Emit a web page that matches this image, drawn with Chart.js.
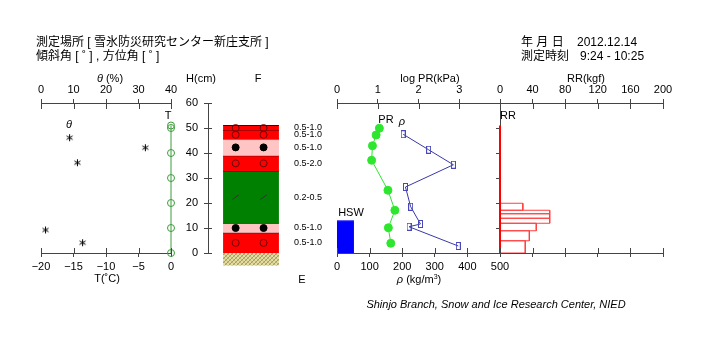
<!DOCTYPE html>
<html>
<head>
<meta charset="utf-8">
<script src="https://cdn.jsdelivr.net/npm/chart.js@4.4.1/dist/chart.umd.min.js"></script>
<style>
    body { margin: 0; background: #fff; }
    #wrap {
        position: relative; width: 720px; height: 338px; overflow: hidden; background: #fff;
        font-family: "Liberation Sans", "Noto Sans CJK JP", sans-serif; color: #000;
    }
    #wrap canvas { position: absolute; top: 0; }
    .t { position: absolute; white-space: nowrap; font-size: 11px; line-height: 1; transform: translate(-50%, -50%); }
    .l { position: absolute; white-space: nowrap; font-size: 12px; line-height: 1; transform: translateY(-50%); }
</style>
</head>
<body>
<div id="wrap">
    <canvas id="cTheta" width="200" height="338" style="left:0"></canvas>
    <canvas id="cLayer" width="190" height="338" style="left:150px"></canvas>
    <canvas id="cRho" width="230" height="338" style="left:300px"></canvas>
    <canvas id="cRR" width="250" height="338" style="left:470px"></canvas>

    <div class="l" style="left:36px;top:42px">測定場所 [ 雪氷防災研究センター新庄支所 ]</div>
    <div class="l" style="left:36px;top:56px">傾斜角 [ ˚ ] , 方位角 [ ˚ ]</div>
    <div class="l" style="left:521px;top:42px">年 月 日</div>
    <div class="l" style="left:577px;top:42px">2012.12.14</div>
    <div class="l" style="left:521px;top:56px">測定時刻</div>
    <div class="l" style="left:580px;top:56px">9:24 - 10:25</div>

    <div class="t" style="left:110px;top:78px"><i>θ</i> (%)</div>
    <div class="t" style="left:201px;top:78px">H(cm)</div>
    <div class="t" style="left:258px;top:78px">F</div>
    <div class="t" style="left:430px;top:78px">log PR(kPa)</div>
    <div class="t" style="left:586px;top:78px">RR(kgf)</div>
    <div class="t" style="left:107px;top:278px">T(˚C)</div>
    <div class="t" style="left:302px;top:279px">E</div>
    <div class="t" style="left:419px;top:279px"><i>ρ</i> (kg/m<sup style="font-size:7px">3</sup>)</div>

    <div class="t" style="left:69px;top:124px"><i>θ</i></div>
    <div class="t" style="left:168px;top:115px">T</div>
    <div class="t" style="left:386px;top:119px">PR</div>
    <div class="t" style="left:402px;top:121px"><i>ρ</i></div>
    <div class="t" style="left:351px;top:212px">HSW</div>
    <div class="t" style="left:508px;top:115px">RR</div>

    <div class="t" style="left:496px;top:304px;font-style:italic">Shinjo Branch, Snow and Ice Research Center, NIED</div>
</div>

<script>
// -------------------------------
// Daten
// -------------------------------
const thetaValue  = [8.8, 32.1, 11.2, 1.4, 12.8];
const thetaHeight = [46.1, 42.1, 36.1, 9.2, 4.1];

const tempValue  = [0, 0, 0, 0, 0, 0, 0];
const tempHeight = [0, 10, 20, 30, 40, 50, 51];

const layerTop    = [51.0, 49.0, 45.6, 38.9, 32.8, 11.9, 8.1];
const layerBottom = [49.0, 45.6, 38.9, 32.8, 11.9, 8.1, 0.0];
const layerShape  = ["o", "o", "x", "o", "/", "x", "o"];
const grainSize   = ["0.5-1.0", "0.5-1.0", "0.5-1.0", "0.5-2.0", "0.2-0.5", "0.5-1.0", "0.5-1.0"];
const groundBottom = -5;

const prHeight = [49.9, 47.2, 42.9, 37.1, 25.1, 17.1, 10.1, 3.9];
const prLog    = [1.04, 0.96, 0.87, 0.85, 1.25, 1.42, 1.26, 1.32];

const rhoHeight = [47.5, 41.3, 35.3, 26.4, 18.5, 11.6, 10.5, 2.8];
const rhoValue  = [203, 281, 357, 210, 226, 256, 221, 372];

const hswValue  = 52;
const hswHeight = 12.9;

const rrTop    = [19.9, 17.1, 15.7, 13.9, 11.9, 8.9, 4.9];
const rrBottom = [17.1, 15.7, 13.9, 11.9, 8.9, 4.9, 0.0];
const rrValue  = [28, 61, 61, 61, 44.5, 36, 31];

// -------------------------------
// Defaults
// -------------------------------
Chart.defaults.font.family = '"Liberation Sans", "Noto Sans CJK JP", sans-serif';
Chart.defaults.font.size = 11;
Chart.defaults.color = "#000";
Chart.defaults.animation = false;
Chart.defaults.responsive = false;
Chart.defaults.events = [];
Chart.defaults.plugins.legend.display = false;
Chart.defaults.plugins.tooltip.enabled = false;

const AXIS = "#444";
const hidden = { type: "linear", display: false, min: 0, max: 60 };

function hAxis(pos, min, max, step, extra) {
    return Object.assign({
        type: "linear", position: pos, min: min, max: max,
        ticks: { stepSize: step, padding: pos === "top" ? 2 : 3, autoSkip: false, maxRotation: 0 },
        grid: { drawOnChartArea: false, tickLength: 4, color: AXIS },
        border: { color: AXIS },
        afterFit: s => { s.height = 28; }
    }, extra || {});
}

// Ticks, die auch nach innen zeigen
function innerTicks(spec) {
    return {
        id: "innerTicks",
        afterDatasetsDraw(chart) {
            const ctx = chart.ctx;
            ctx.save();
            ctx.strokeStyle = AXIS;
            ctx.lineWidth = 1;
            Object.keys(spec).forEach(id => {
                const s = chart.scales[id];
                const len = spec[id];
                s.ticks.forEach((t, i) => {
                    const p = Math.round(s.getPixelForTick(i)) + 0.5;
                    ctx.beginPath();
                    if (s.position === "top") { ctx.moveTo(p, s.bottom); ctx.lineTo(p, s.bottom + len); }
                    else if (s.position === "bottom") { ctx.moveTo(p, s.top); ctx.lineTo(p, s.top - len); }
                    else { ctx.moveTo(s.right, p); ctx.lineTo(s.right + len, p); }
                    ctx.stroke();
                });
            });
            ctx.restore();
        }
    };
}

const pts = (xs, ys) => xs.map((v, i) => ({ x: v, y: ys[i] }));

// Sternchen mit 6 Armen
function asterisk() {
    const c = document.createElement("canvas");
    c.width = 9; c.height = 9;
    const g = c.getContext("2d");
    g.strokeStyle = "#000";
    g.lineWidth = 1;
    [90, 30, 150].forEach(a => {
        const r = a * Math.PI / 180;
        g.beginPath();
        g.moveTo(4.5 - 3.5 * Math.cos(r), 4.5 - 3.5 * Math.sin(r));
        g.lineTo(4.5 + 3.5 * Math.cos(r), 4.5 + 3.5 * Math.sin(r));
        g.stroke();
    });
    return c;
}

// -------------------------------
// Theta / Temperatur
// -------------------------------
new Chart(document.getElementById("cTheta"), {
    type: "scatter",
    data: {
        datasets: [
            {
                data: pts(tempValue, tempHeight), xAxisID: "t", yAxisID: "y",
                showLine: true, borderColor: "#3c9c3c", borderWidth: 1,
                pointStyle: "circle", pointRadius: 3.5, pointBorderColor: "#3c9c3c",
                pointBackgroundColor: "rgba(0,0,0,0)", clip: false
            },
            {
                data: pts(thetaValue, thetaHeight), xAxisID: "th", yAxisID: "y",
                pointStyle: asterisk()
            }
        ]
    },
    options: {
        layout: { padding: { left: 41, right: 29, top: 75, bottom: 57 } },
        scales: {
            th: hAxis("top", 0, 40, 10),
            t: hAxis("bottom", -20, 0, 5, {
                ticks: { stepSize: 5, padding: 3, autoSkip: false, maxRotation: 0,
                         callback: v => String(v).replace("-", "\u2212") }
            }),
            y: hidden
        }
    },
    plugins: [innerTicks({ th: 6, t: 5 })]
});

// -------------------------------
// Schichten
// -------------------------------
const layerFill = { o: "#ff0000", x: "#ffc4c4", "/": "#008000" };

function marks(shape) {
    const out = [];
    layerTop.forEach((top, i) => {
        if (layerShape[i] !== shape) return;
        const mid = (top + layerBottom[i]) / 2;
        out.push({ x: 0.45, y: mid }, { x: 1.45, y: mid });
    });
    return out;
}

function makeHatch() {
    const c = document.createElement("canvas");
    c.width = 4; c.height = 4;
    const g = c.getContext("2d");
    g.fillStyle = "#e2dca8";
    g.fillRect(0, 0, 4, 4);
    g.fillStyle = "#a8a050";
    for (let i = 0; i < 4; i++) {
        g.fillRect(i, 3 - i, 1, 1);
    }
    g.fillStyle = "#c4bc78";
    for (let i = 0; i < 4; i++) {
        g.fillRect(i, i, 1, 1);
    }
    return c;
}
const hatchTile = makeHatch();

const layerExtras = {
    id: "layerExtras",
    beforeDatasetsDraw(chart) {
        const { ctx, scales: { x, y } } = chart;
        const x0 = x.getPixelForValue(0), x1 = x.getPixelForValue(2);
        const y0 = y.getPixelForValue(0), y1 = y.getPixelForValue(groundBottom);
        ctx.save();
        ctx.fillStyle = ctx.createPattern(hatchTile, "repeat");
        ctx.fillRect(x0, y0, x1 - x0, y1 - y0);
        ctx.restore();
    },
    afterDatasetsDraw(chart) {
        const { ctx, chartArea, scales: { y } } = chart;
        ctx.save();
        ctx.fillStyle = "#000";
        ctx.font = '9px "Liberation Sans", sans-serif';
        ctx.textBaseline = "middle";
        grainSize.forEach((g, i) => {
            const mid = (layerTop[i] + layerBottom[i]) / 2;
            ctx.fillText(g, chartArea.right, y.getPixelForValue(mid));
        });
        ctx.restore();
    }
};

const layerSets = layerTop.map((top, i) => ({
    data: [{ x: 0, y: top }, { x: 2, y: top }],
    showLine: true, pointRadius: 0,
    borderColor: "#500000", borderWidth: 1,
    backgroundColor: layerFill[layerShape[i]],
    fill: { value: layerBottom[i] }
}));

new Chart(document.getElementById("cLayer"), {
    type: "scatter",
    data: {
        datasets: [
            { data: marks("o"), pointStyle: "circle", pointRadius: 3.5, borderColor: "#700000",
              borderWidth: 1, backgroundColor: "rgba(0,0,0,0)" },
            { data: marks("x"), pointStyle: "circle", pointRadius: 3.5, borderColor: "#000",
              backgroundColor: "#000" },
            { data: marks("/"), pointStyle: "line", pointRadius: 4, rotation: -35,
              borderColor: "#333", borderWidth: 1 }
        ].concat(layerSets)
    },
    options: {
        layout: { padding: { left: 0, right: 46, top: 103, bottom: 85 } },
        scales: {
            x: { type: "linear", display: false, min: -0.54, max: 2.54 },
            y: {
                type: "linear", position: "left", min: 0, max: 60,
                ticks: { stepSize: 10, padding: 6 },
                grid: { drawOnChartArea: false, tickLength: 4, color: AXIS },
                border: { color: AXIS },
                afterFit: s => { s.width = 58; }
            }
        }
    },
    plugins: [layerExtras, innerTicks({ y: 4 })]
});

// -------------------------------
// Dichte / PR
// -------------------------------
function rhoMark() {
    const c = document.createElement("canvas");
    c.width = 5; c.height = 8;
    const g = c.getContext("2d");
    g.strokeStyle = "#4848b8";
    g.lineWidth = 1;
    g.strokeRect(0.5, 0.5, 4, 7);
    return c;
}

new Chart(document.getElementById("cRho"), {
    type: "scatter",
    data: {
        datasets: [
            {
                data: pts(prLog, prHeight), xAxisID: "pr", yAxisID: "y",
                showLine: true, borderColor: "#2ee62e", borderWidth: 1,
                pointStyle: "circle", pointRadius: 4, pointBackgroundColor: "#2ee62e",
                pointBorderColor: "#2ee62e"
            },
            {
                data: pts(rhoValue, rhoHeight), xAxisID: "rho", yAxisID: "y",
                showLine: true, borderColor: "#3838a8", borderWidth: 1,
                pointStyle: rhoMark()
            },
            {
                data: [{ x: 0, y: hswHeight }, { x: hswValue, y: hswHeight }],
                xAxisID: "rho", yAxisID: "y", showLine: true, pointRadius: 0,
                borderColor: "#3a3aff", borderWidth: 1, backgroundColor: "#0000ff",
                fill: { value: 0 }
            }
        ]
    },
    options: {
        layout: { padding: { left: 37, right: 30, top: 75, bottom: 57 } },
        scales: {
            pr: hAxis("top", 0, 4, 1, {
                ticks: { stepSize: 1, padding: 2, autoSkip: false, maxRotation: 0,
                         callback: v => (v === 4 ? "" : v) }
            }),
            rho: hAxis("bottom", 0, 500, 100),
            y: hidden
        }
    },
    plugins: [innerTicks({ pr: 6, rho: 5 })]
});

// -------------------------------
// Rammwiderstand RR
// -------------------------------
const rrSets = rrValue.map((v, i) => ({
    data: [{ x: 0, y: rrTop[i] }, { x: v, y: rrTop[i] }, { x: v, y: rrBottom[i] }, { x: 0, y: rrBottom[i] }],
    showLine: true, pointRadius: 0, borderColor: "#ff4040", borderWidth: 1
}));

new Chart(document.getElementById("cRR"), {
    type: "scatter",
    data: {
        datasets: [
            {
                data: [{ x: 0, y: 0 }, { x: 0, y: layerTop[0] }],
                showLine: true, pointRadius: 0, borderColor: "#ff0000", borderWidth: 2, clip: false
            }
        ].concat(rrSets)
    },
    options: {
        layout: { padding: { left: 20, right: 57, top: 75, bottom: 57 } },
        scales: {
            x: hAxis("top", 0, 200, 40),
            xb: hAxis("bottom", 0, 200, 40, {
                ticks: { display: false, stepSize: 40 }
            }),
            y: {
                type: "linear", position: "left", min: 0, max: 60,
                ticks: { display: false, stepSize: 10 },
                grid: { drawOnChartArea: false, tickLength: 4, color: AXIS },
                border: { color: AXIS },
                afterFit: s => { s.width = 10; }
            }
        }
    },
    plugins: [innerTicks({ x: 6, xb: 5 })]
});
</script>
</body>
</html>
